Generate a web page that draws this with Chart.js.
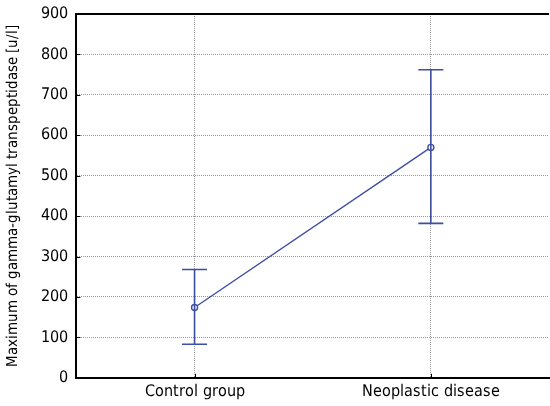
<!DOCTYPE html>
<html>
<head>
<meta charset="utf-8">
<script src="https://cdn.jsdelivr.net/npm/chart.js@4/dist/chart.umd.min.js"></script>
<style>
  @font-face {
    font-family: 'CondSans';
    src: local('Liberation Sans Narrow'), local('LiberationSansNarrow-Regular'),
         local('DejaVu Sans Condensed'), local('DejaVuSansCondensed');
  }
  html, body { margin: 0; padding: 0; background: #fff; }
  #wrap { width: 550px; height: 406px; }
</style>
</head>
<body>
<div id="wrap"><canvas id="myChart"></canvas></div>
<script>
const groups = ['Control group', 'Neoplastic disease'];
const meanValues = [174, 570];
const lowerValues = [83, 382];
const upperValues = [268, 762];
const yTicks = [0, 100, 200, 300, 400, 500, 600, 700, 800, 900];

const lineColor = '#3d4ea3';
const fontFamily = 'CondSans, "DejaVu Sans Condensed", sans-serif';

// whiskers, inner tick marks and the top frame line
const errorBars = {
  id: 'errorBars',
  beforeDatasetsDraw(chart) {
    const ctx = chart.ctx;
    const a = chart.chartArea;
    const y = chart.scales.y;
    const x = chart.scales.x;
    ctx.save();
    ctx.strokeStyle = '#000';
    ctx.lineWidth = 2;
    ctx.beginPath();
    ctx.moveTo(a.left - 1, a.top);
    ctx.lineTo(a.right, a.top);
    ctx.stroke();
    ctx.lineWidth = 1;
    ctx.beginPath();
    yTicks.forEach(v => {
      const py = Math.round(y.getPixelForValue(v)) + 0.5;
      ctx.moveTo(a.left, py);
      ctx.lineTo(a.left + 4, py);
    });
    groups.forEach((g, i) => {
      const px = Math.round(x.getPixelForValue(i)) + 0.5;
      ctx.moveTo(px, a.bottom);
      ctx.lineTo(px, a.bottom - 4);
    });
    ctx.stroke();
    ctx.restore();
  },
  afterDatasetsDraw(chart) {
    const ctx = chart.ctx;
    const x = chart.scales.x;
    const y = chart.scales.y;
    ctx.save();
    ctx.strokeStyle = lineColor;
    ctx.lineWidth = 1.6;
    groups.forEach((g, i) => {
      const px = x.getPixelForValue(i);
      const top = y.getPixelForValue(upperValues[i]);
      const bot = y.getPixelForValue(lowerValues[i]);
      ctx.beginPath();
      ctx.moveTo(px, top); ctx.lineTo(px, bot);
      ctx.moveTo(px - 12.5, top); ctx.lineTo(px + 12.5, top);
      ctx.moveTo(px - 12.5, bot); ctx.lineTo(px + 12.5, bot);
      ctx.stroke();
    });
    ctx.restore();
  }
};

function build() {
  const config = {
    type: 'line',
    data: {
      labels: groups,
      datasets: [{
        data: meanValues,
        borderColor: lineColor,
        borderWidth: 1.4,
        pointRadius: 3,
        pointBackgroundColor: '#fff',
        pointBorderColor: lineColor,
        pointBorderWidth: 1.4,
        tension: 0
      }]
    },
    options: {
      responsive: true,
      maintainAspectRatio: false,
      animation: false,
      layout: { autoPadding: false, padding: { top: 14, right: 1, left: 5, bottom: 1 } },
      plugins: {
        legend: { display: false },
        tooltip: { enabled: false }
      },
      scales: {
        x: {
          type: 'category',
          offset: true,
          grid: {
            color: '#9a9a9a',
            lineWidth: 1,
            drawTicks: false,
            offset: false
          },
          border: { color: '#000', width: 2, dash: [1, 1] },
          ticks: {
            color: '#000',
            padding: 4,
            font: { family: fontFamily, size: 16 }
          }
        },
        y: {
          type: 'linear',
          min: 0,
          max: 900,
          afterBuildTicks(scale) {
            scale.ticks = yTicks.map(v => ({ value: v }));
          },
          afterFit(scale) {
            scale.paddingTop = 0;
            scale.paddingBottom = 0;
          },
          grid: {
            color: '#9a9a9a',
            lineWidth: 1,
            drawTicks: false
          },
          border: { color: '#000', width: 2, dash: [1, 1] },
          ticks: {
            color: '#000',
            padding: 8,
            font: { family: fontFamily, size: 16 }
          },
          title: {
            display: true,
            text: 'Maximum of gamma-glutamyl transpeptidase [u/l]',
            color: '#000',
            padding: { top: 0, bottom: 11 },
            font: { family: fontFamily, size: 14.5 }
          }
        }
      }
    },
    plugins: [errorBars]
  };
  new Chart(document.getElementById('myChart'), config);
}

document.fonts.load('16px CondSans').then(build, build);
</script>
</body>
</html>
